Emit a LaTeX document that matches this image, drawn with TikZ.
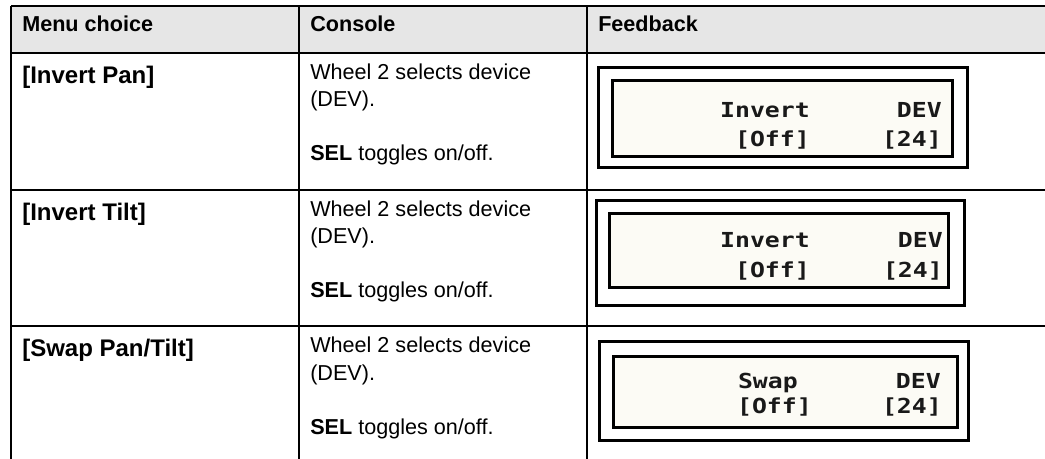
\documentclass[tikz,border=0pt]{standalone}
\usepackage{fontspec}
\setmainfont{Liberation Sans}
\newfontfamily\lcdfont{DejaVu Sans Mono}[FakeStretch=1.2]
\usepackage{tikz}
\definecolor{headgray}{RGB}{230,230,230}
\definecolor{lcdback}{RGB}{252,251,245}
\tikzstyle{rule} = [line width=1.5pt]
\tikzstyle{head} = [anchor=base west,inner sep=0pt,font=\fontsize{16.2}{19}\selectfont\bfseries]
\tikzstyle{choice} = [anchor=base west,inner sep=0pt,font=\fontsize{18}{21}\selectfont\bfseries]
\tikzstyle{console} = [anchor=base west,inner sep=0pt,font=\fontsize{16.2}{19}\selectfont]
\tikzstyle{frame} = [line width=2.25pt]
\tikzstyle{lcd} = [line width=2.25pt,fill=lcdback]
\tikzstyle{lcdtext} = [anchor=base east,inner sep=0pt,text=black!90,font=\lcdfont\fontsize{15.5}{18}\selectfont\bfseries]

\begin{document}
\begin{tikzpicture}[x=0.75pt,y=-0.75pt]
          \useasboundingbox (0,0) rectangle (1045,459);
          \fill[headgray] (11,6) rectangle (1045,53);
          \draw[rule] (11,6) -- (1045,6);
          \draw[rule] (11,53) -- (1045,53);
          \draw[rule] (11,190) -- (1045,190);
          \draw[rule] (11,326) -- (1045,326);
          \draw[rule] (11,6) -- (11,459);
          \draw[rule] (299,6) -- (299,459);
          \draw[rule] (587,6) -- (587,459);

          \node[head] (hmenu) at (22,32) {Menu choice};
          \node[head] (hconsole) at (310,32) {Console};
          \node[head] (hfeed) at (598,32) {Feedback};

          \node[choice] (pan) at (22,84) {[Invert Pan]};
          \node[console] (pan-c1) at (310,80) {Wheel 2 selects device};
          \node[console] (pan-c2) at (310,107) {(DEV).};
          \node[console] (pan-c3) at (310,161) {\textbf{SEL} toggles on/off.};
          \draw[frame] (598,68) rectangle (967,168);
          \draw[lcd] (612,81) rectangle (952,157);
          \node[lcdtext] (pan-l1) at (810,118) {Invert};
          \node[lcdtext] (pan-l2) at (942,118) {DEV};
          \node[lcdtext] (pan-l3) at (810,147) {[Off]};
          \node[lcdtext] (pan-l4) at (942,147) {[24]};

          \node[choice] (tilt) at (22,221) {[Invert Tilt]};
          \node[console] (tilt-c1) at (310,217) {Wheel 2 selects device};
          \node[console] (tilt-c2) at (310,244) {(DEV).};
          \node[console] (tilt-c3) at (310,298) {\textbf{SEL} toggles on/off.};
          \draw[frame] (596,201) rectangle (964,306);
          \draw[lcd] (609,214) rectangle (948,288);
          \node[lcdtext] (tilt-l1) at (810,248) {Invert};
          \node[lcdtext] (tilt-l2) at (943,248) {DEV};
          \node[lcdtext] (tilt-l3) at (810,278) {[Off]};
          \node[lcdtext] (tilt-l4) at (943,278) {[24]};

          \node[choice] (swap) at (22,357) {[Swap Pan/Tilt]};
          \node[console] (swap-c1) at (310,353) {Wheel 2 selects device};
          \node[console] (swap-c2) at (310,380) {(DEV).};
          \node[console] (swap-c3) at (310,434) {\textbf{SEL} toggles on/off.};
          \draw[frame] (599,342) rectangle (968,440);
          \draw[lcd] (613,356) rectangle (957,427);
          \node[lcdtext] (swap-l1) at (798,388) {Swap};
          \node[lcdtext] (swap-l2) at (941,388) {DEV};
          \node[lcdtext] (swap-l3) at (812,413) {[Off]};
          \node[lcdtext] (swap-l4) at (942,413) {[24]};
        \end{tikzpicture}
\end{document}
